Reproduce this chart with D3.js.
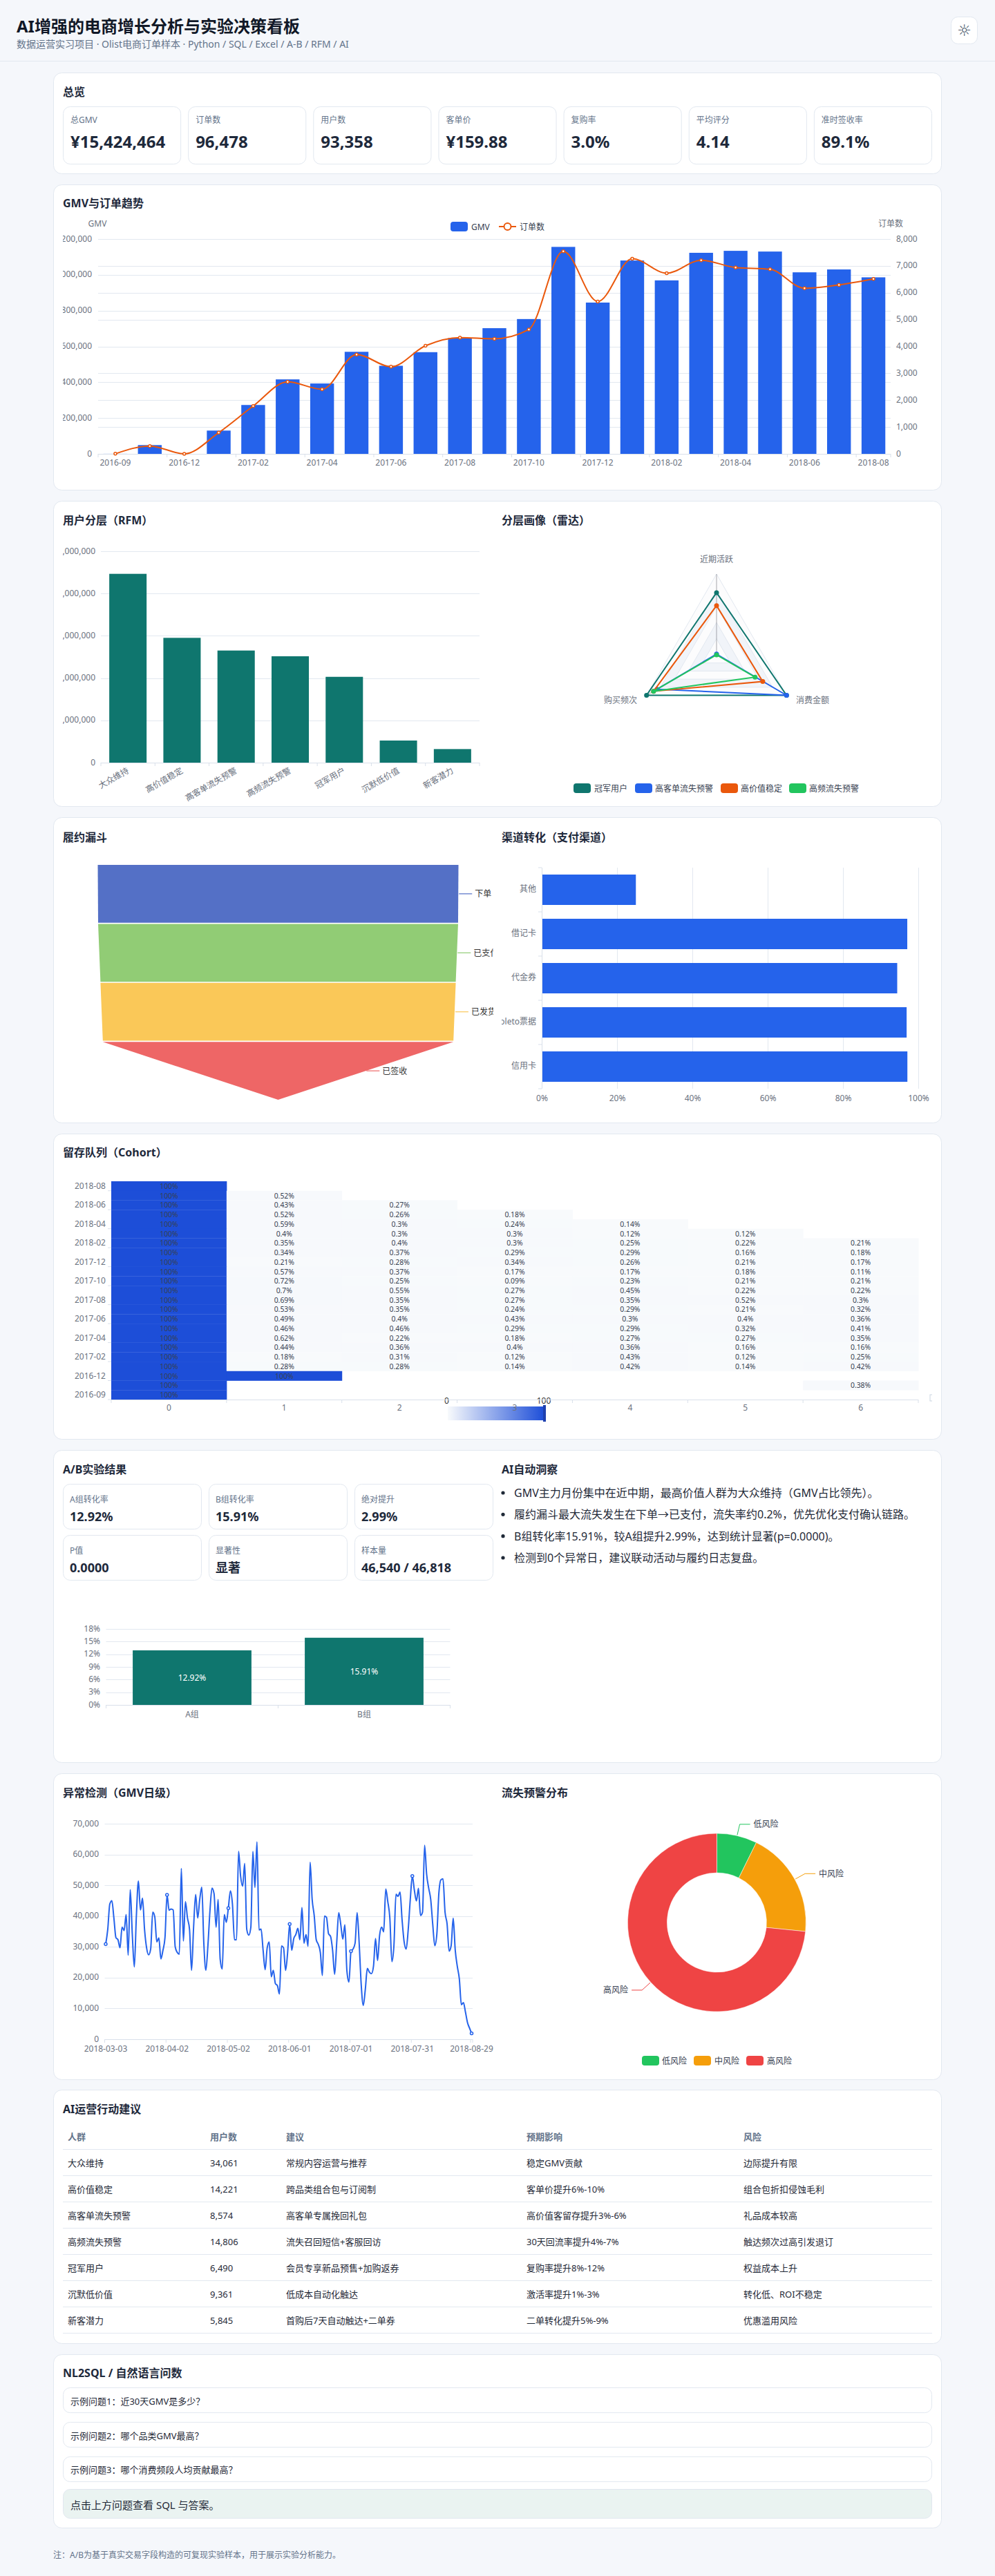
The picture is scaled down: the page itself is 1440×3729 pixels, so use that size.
<!DOCTYPE html>
<html lang="zh"><head><meta charset="utf-8"><title>AI增强的电商增长分析与实验决策看板</title>
<script src="https://cdn.jsdelivr.net/npm/d3@7/dist/d3.min.js"></script>
<style>
html,body{margin:0;padding:0;background:#f5f7fb}
svg{display:block}
text{font-family:"Noto Sans","Noto Sans CJK SC",sans-serif;dominant-baseline:central}
</style></head><body><script>
const kpiLabels=["总GMV","订单数","用户数","客单价","复购率","平均评分","准时签收率"];
const kpiValues=["¥15,424,464","96,478","93,358","¥159.88","3.0%","4.14","89.1%"];
const months=["2016-09","2016-10","2016-12","2017-01","2017-02","2017-03","2017-04","2017-05","2017-06","2017-07","2017-08","2017-09","2017-10","2017-11","2017-12","2018-01","2018-02","2018-03","2018-04","2018-05","2018-06","2018-07","2018-08"];
const gmvValues=[300,49000,20,130000,273000,416000,393000,570000,492000,568000,647000,702000,753000,1156000,845000,1080000,969000,1123000,1134000,1130000,1014000,1030000,986000];
const orderValues=[4,292,1,790,1780,2682,2404,3700,3245,4026,4331,4285,4631,7544,5673,7269,6728,7211,6939,6873,6167,6292,6512];
const rfmSegments=["大众维持","高价值稳定","高客单流失预警","高频流失预警","冠军用户","沉默低价值","新客潜力"];
const rfmGmv=[4466000,2952000,2652000,2516000,2030000,523000,321000];
const radarAxes=["近期活跃","购买频次","消费金额"];
const radarNames=["冠军用户","高客单流失预警","高价值稳定","高频流失预警"];
const radarChampion=[0.77,1,1];
const radarHighTicket=[0.01,0.85,1];
const radarHighValue=[0.61,0.9,0.66];
const radarHighFreq=[0,0.9,0.55];
const radarColors=["#0f766e","#2563eb","#ea580c","#22c55e"];
const funnelStages=["下单","已支付","已发货","已签收"];
const funnelValues=[100,99.8,98.5,97.2];
const funnelColors=["#5470c6","#91cc75","#fac858","#ee6666"];
const channelNames=["其他","借记卡","代金券","boleto票据","信用卡"];
const channelRates=[25,97.07,94.4,96.9,97.1];
const cohortMonths=["2018-08","2018-07","2018-06","2018-05","2018-04","2018-03","2018-02","2018-01","2017-12","2017-11","2017-10","2017-09","2017-08","2017-07","2017-06","2017-05","2017-04","2017-03","2017-02","2017-01","2016-12","2016-10","2016-09"];
const cohortValues=[
[100],[100,.52],[100,.43,.27],[100,.52,.26,.18],[100,.59,.3,.24,.14],[100,.4,.3,.3,.12,.12],
[100,.35,.4,.3,.25,.22,.21],[100,.34,.37,.29,.29,.16,.18],[100,.21,.28,.34,.26,.21,.17],
[100,.57,.37,.17,.17,.18,.11],[100,.72,.25,.09,.23,.21,.21],[100,.7,.55,.27,.45,.22,.22],
[100,.69,.35,.27,.35,.52,.3],[100,.53,.35,.24,.29,.21,.32],[100,.49,.4,.43,.3,.4,.36],
[100,.46,.46,.29,.29,.32,.41],[100,.62,.22,.18,.27,.27,.35],[100,.44,.36,.4,.36,.16,.16],
[100,.18,.31,.12,.43,.12,.25],[100,.28,.28,.14,.42,.14,.42],[100,100],
[100,null,null,null,null,null,.38],[100]];
const abLabels=["A组转化率","B组转化率","绝对提升","P值","显著性","样本量"];
const abValues=["12.92%","15.91%","2.99%","0.0000","显著","46,540 / 46,818"];
const abGroups=["A组","B组"];
const abRates=[12.92,15.91];
const insights=["GMV主力月份集中在近中期，最高价值人群为大众维持（GMV占比领先）。","履约漏斗最大流失发生在下单→已支付，流失率约0.2%，优先优化支付确认链路。","B组转化率15.91%，较A组提升2.99%，达到统计显著(p=0.0000)。","检测到0个异常日，建议联动活动与履约日志复盘。"];
const dailyGmvK=[30.9,35.7,43.9,45,39.4,33,32.3,29.7,36.4,35.3,40.5,27.3,48.6,34.2,23.5,40,51.4,42,45.8,35.7,29.7,27.4,29.3,41.3,39.8,31.6,32.9,26.1,28.9,33,46.9,41.9,42.3,42,30,28.2,27.6,55.5,31.9,44.7,39.4,35.7,22.4,36.4,47,39.4,45.4,49.4,31.2,22.4,30.4,41.7,49.1,47.3,36.4,45.4,26,22.8,40.5,38,42.6,48.2,43.9,32.3,32.3,61,52.9,49.7,57.1,35.7,33.8,36.4,61,49.3,64.1,35.5,35.8,28.9,22.6,29.7,31.6,20.3,22.4,18.1,17.4,14.7,30.3,29.7,22.4,28.2,37.4,28.9,32.7,34,36,32.3,42.8,31.2,34,30.2,57.5,45.4,40.2,32.3,30.8,28.2,20.7,40,39.6,34.3,33.4,28.9,21.1,31.2,41.1,37.2,32.5,37.2,22.2,18.6,28.6,29.3,31.2,41.1,31.2,17.7,11,16.2,23,21.8,21.3,23.7,32.7,25.6,33.8,36.4,34.9,48.8,44.7,39.4,25.2,30.4,47.1,46.4,47.8,38.7,31.6,29.3,35.7,45.4,53,48.4,44.9,49,40.2,41.3,63,53.6,49.1,45.4,37.2,30.4,34.2,47.6,51.8,52.1,41.3,37.5,28.6,30.4,39.3,28.9,23.7,19.6,11.2,11.9,8.8,5.4,3.6,1.9];
const dailyTickDates=["2018-03-03","2018-04-02","2018-05-02","2018-06-01","2018-07-01","2018-07-31","2018-08-29"];
const dailyTickIndex=[0,30,60,90,120,150,179];
const riskNames=["低风险","中风险","高风险"];
const riskUsers=[6815,18020,68523];
const riskColors=["#22c55e","#f59e0b","#ef4444"];
const tableHeads=["人群","用户数","建议","预期影响","风险"];
const tableSegments=["大众维持","高价值稳定","高客单流失预警","高频流失预警","冠军用户","沉默低价值","新客潜力"];
const tableUsers=["34,061","14,221","8,574","14,806","6,490","9,361","5,845"];
const tableActions=["常规内容运营与推荐","跨品类组合包与订阅制","高客单专属挽回礼包","流失召回短信+客服回访","会员专享新品预售+加购返券","低成本自动化触达","首购后7天自动触达+二单券"];
const tableImpacts=["稳定GMV贡献","客单价提升6%-10%","高价值客留存提升3%-6%","30天回流率提升4%-7%","复购率提升8%-12%","激活率提升1%-3%","二单转化提升5%-9%"];
const tableRisks=["边际提升有限","组合包折扣侵蚀毛利","礼品成本较高","触达频次过高引发退订","权益成本上升","转化低、ROI不稳定","优惠滥用风险"];
const questions=["示例问题1：近30天GMV是多少？","示例问题2：哪个品类GMV最高？","示例问题3：哪个消费频段人均贡献最高？"];

const INK="#1f2937",MUTE="#64748b",AXIS="#6b7280",GRID="#e2e8f0",AXLINE="#d9e0ea";
const svg=d3.select("body").append("svg").attr("width",1440).attr("height",3729).attr("viewBox","0 0 1440 3729");
svg.append("rect").attr("width",1440).attr("height",3729).attr("fill","#f5f7fb");
const defs=svg.append("defs");
function clip(id,x,y,w,h){defs.append("clipPath").attr("id",id).append("rect").attr("x",x).attr("y",y).attr("width",w).attr("height",h);}
clip("cFull",91,260,1258,3000);clip("cLeft",91,260,623,3000);clip("cRight",726,260,623,3000);
function T(g,x,y,s,o={}){return g.append("text").attr("x",x).attr("y",y).text(s).attr("font-size",o.size||12).attr("fill",o.fill||AXIS).attr("font-weight",o.weight||400).attr("text-anchor",o.anchor||"start");}
function box(x,y,w,h,r=12,fill="#fff",stroke=GRID){return svg.append("rect").attr("x",x+.5).attr("y",y+.5).attr("width",w-1).attr("height",h-1).attr("rx",r).attr("fill",fill).attr("stroke",stroke);}
function title(x,y,s){T(svg,x,y,s,{size:16,weight:700,fill:"#1e293b"});}
function styleAxis(sel){sel.attr("font-size",12).attr("font-family",null);sel.select(".domain").remove();sel.selectAll("text").attr("fill",AXIS);sel.selectAll("line").attr("stroke",GRID);return sel;}
function gridY(g,y,x0,x1,vals){g.selectAll(null).data(vals).join("line").attr("x1",x0).attr("x2",x1).attr("y1",d=>Math.round(y(d))+.5).attr("y2",d=>Math.round(y(d))+.5).attr("stroke",GRID);}
function leftAxis(g,y,x,vals,fmt){g.append("g").attr("transform",`translate(${x},0)`).call(d3.axisLeft(y).tickValues(vals).tickFormat(fmt).tickSize(0).tickPadding(0)).call(styleAxis).selectAll("text").attr("dy",-1.5);}
function bandBottom(g,x,y0,shown,lblDy=13,tickLen=5){
  const ax=g.append("g").attr("transform",`translate(0,${y0})`).call(d3.axisBottom(x).tickValues(shown).tickSize(0).tickPadding(0)).call(styleAxis);
  ax.selectAll("text").attr("y",lblDy).attr("dy",0);
  const step=x.step(),pi=x.paddingInner(),r=x.range();
  const edges=shown.map(c=>x(c)-step*pi/2).concat([r[1]]);
  g.append("line").attr("x1",r[0]).attr("x2",r[1]).attr("y1",y0+.5).attr("y2",y0+.5).attr("stroke",AXLINE);
  g.selectAll(null).data(edges).join("line").attr("x1",d=>d).attr("x2",d=>d).attr("y1",y0).attr("y2",y0+tickLen).attr("stroke",AXLINE);
}
function band(dom,r,p){return d3.scaleBand().domain(dom).range(r).paddingInner(p).paddingOuter(p/2);}
function legend(g,items,y){items.forEach(it=>{g.append("rect").attr("x",it.x).attr("y",y-7).attr("width",25).attr("height",14).attr("rx",4).attr("fill",it.color);T(g,it.tx,y,it.name,{fill:"#374151"});});}

/* header */
T(svg,24,37,"AI增强的电商增长分析与实验决策看板",{size:24,weight:700,fill:"#111827"});
T(svg,24,63,"数据运营实习项目 · Olist电商订单样本 · Python / SQL / Excel / A-B / RFM / AI",{size:14,fill:MUTE});
svg.append("line").attr("x1",0).attr("x2",1440).attr("y1",88.5).attr("y2",88.5).attr("stroke",GRID);
box(1376,24,39,40,10);
T(svg,1395.5,44,"☼",{size:23,anchor:"middle",fill:"#475569"}).style("font-family","DejaVu Sans");
/* cards */
[[105,252],[267,710],[725,1168],[1183,1626],[1641,2084],[2099,2552],[2567,3011],[3025,3393],[3408,3660]].forEach(c=>box(77,c[0],1286,c[1]-c[0]));
/* overview */
title(91,133,"总览");
const kx=d3.scaleBand().domain(kpiLabels).range([91,1349]).paddingInner(10/181).paddingOuter(0);
kpiLabels.forEach((l,i)=>{const x=kx(l);box(x,154,kx.bandwidth(),84,10);T(svg,x+11,173,l,{size:12,fill:MUTE});T(svg,x+11,204,kpiValues[i],{size:24,weight:700,fill:"#1e293b"});});

/* GMV chart */
title(91,294,"GMV与订单趋势");
{const g=svg.append("g").attr("clip-path","url(#cFull)");
 const x=band(months,[142,1289],.31),yL=d3.scaleLinear().domain([0,1200000]).range([657,346]),yR=d3.scaleLinear().domain([0,8000]).range([657,346]);
 const lt=d3.range(0,1200001,200000),rt=d3.range(0,8001,1000);
 gridY(g,yL,142,1289,lt);gridY(g,yR,142,1289,rt);
 g.selectAll(null).data(months).join("rect").attr("x",d=>x(d)).attr("width",x.bandwidth()).attr("y",(d,i)=>yL(gmvValues[i])).attr("height",(d,i)=>657-yL(gmvValues[i])).attr("fill","#2563eb");
 bandBottom(g,x,657,months.filter((d,i)=>i%2===0),12);
 leftAxis(g,yL,133,lt,d3.format(","));
 g.append("g").attr("transform","translate(1289,0)").call(d3.axisRight(yR).tickValues(rt).tickFormat(d3.format(",")).tickSize(0).tickPadding(8)).call(styleAxis).selectAll("text").attr("dy",-1.5);
 const cx=d=>x(d)+x.bandwidth()/2;
 const line=d3.line().x((d,i)=>cx(months[i])).y(d=>yR(d)).curve(d3.curveMonotoneX);
 g.append("path").attr("d",line(orderValues)).attr("fill","none").attr("stroke","#ea580c").attr("stroke-width",2);
 g.selectAll(null).data(orderValues).join("circle").attr("cx",(d,i)=>cx(months[i])).attr("cy",d=>yR(d)).attr("r",2).attr("fill","#fff").attr("stroke","#ea580c").attr("stroke-width",1.5);
 T(g,141,323,"GMV",{anchor:"middle"});T(g,1289,323,"订单数",{anchor:"middle"});
 g.append("rect").attr("x",652).attr("y",321).attr("width",25).attr("height",14).attr("rx",4).attr("fill","#2563eb");
 T(g,682,328,"GMV",{fill:"#374151"});
 g.append("line").attr("x1",722).attr("x2",747).attr("y1",328).attr("y2",328).attr("stroke","#ea580c").attr("stroke-width",2);
 g.append("circle").attr("cx",734.5).attr("cy",328).attr("r",5).attr("fill","#fff").attr("stroke","#ea580c").attr("stroke-width",2);
 T(g,752,328,"订单数",{fill:"#374151"});
}
/* RFM */
title(91,753,"用户分层（RFM）");
{const g=svg.append("g").attr("clip-path","url(#cLeft)");
 const x=band(rfmSegments,[146,694],.31),y=d3.scaleLinear().domain([0,5000000]).range([1104,798]);
 const t=d3.range(0,5000001,1000000);gridY(g,y,146,694,t);
 g.selectAll(null).data(rfmGmv).join("rect").attr("x",(d,i)=>x(rfmSegments[i])).attr("width",x.bandwidth()).attr("y",d=>y(d)).attr("height",d=>1104-y(d)).attr("fill","#0f766e");
 bandBottom(g,x,1104,rfmSegments,12);
 g.selectAll(".tick text").remove();
 rfmSegments.forEach(s=>{const cx=x(s)+x.bandwidth()/2;T(g,cx,1114,s,{anchor:"end"}).attr("transform",`rotate(-30 ${cx} 1114)`);});
 leftAxis(g,y,138,t,d3.format(","));
}
/* radar */
title(726,753,"分层画像（雷达）");
{const g=svg.append("g").attr("clip-path","url(#cRight)"),cx=1037,cy=948;
 const r=d3.scaleLinear().domain([0,1]).range([0,117]);
 const ang=i=>-Math.PI/2-i*2*Math.PI/3;
 const pt=(v,i)=>[cx+r(v)*Math.cos(ang(i)),cy+r(v)*Math.sin(ang(i))];
 const poly=d3.line().curve(d3.curveLinearClosed);
 [1,.8,.6,.4,.2].forEach((v,k)=>{g.append("path").attr("d",poly([0,1,2].map(i=>pt(v,i)))).attr("fill",k%2?"#f1f4f9":"#fcfcfd").attr("stroke",GRID);});
 [0,1,2].forEach(i=>{const p=pt(1,i);g.append("line").attr("x1",cx).attr("y1",cy).attr("x2",p[0]).attr("y2",p[1]).attr("stroke","#6e7079").attr("stroke-opacity",.6);});
 [radarChampion,radarHighTicket,radarHighValue,radarHighFreq].forEach((vals,k)=>{
  const pts=vals.map((v,i)=>pt(v,i));
  g.append("path").attr("d",poly(pts)).attr("fill","none").attr("stroke",radarColors[k]).attr("stroke-width",2);
  g.selectAll(null).data(pts).join("circle").attr("cx",d=>d[0]).attr("cy",d=>d[1]).attr("r",3.5).attr("fill",radarColors[k]);
 });
 T(g,1037,809,radarAxes[0],{anchor:"middle"});T(g,898,1013,radarAxes[1],{anchor:"middle"});T(g,1176,1013,radarAxes[2],{anchor:"middle"});
 legend(g,[{x:830,tx:860,name:radarNames[0],color:radarColors[0]},{x:919,tx:948,name:radarNames[1],color:radarColors[1]},{x:1043,tx:1072,name:radarNames[2],color:radarColors[2]},{x:1142,tx:1171,name:radarNames[3],color:radarColors[3]}],1141);
}
/* funnel */
title(91,1212,"履约漏斗");
{const g=svg.append("g").attr("clip-path","url(#cLeft)");
 const w=d3.scaleLinear().domain([0,100]).range([0,522]),cx=402.5;
 const y=d3.scaleBand().domain(funnelStages).range([1252,1592]).paddingInner(.02).paddingOuter(0);
 const poly=d3.line().curve(d3.curveLinearClosed);
 funnelStages.forEach((s,i)=>{const t=w(funnelValues[i])/2,b=i<3?w(funnelValues[i+1])/2:0,y0=y(s),y1=y0+y.bandwidth(),col=funnelColors[i];
  g.append("path").attr("d",poly([[cx-t,y0],[cx+t,y0],[cx+b,y1],[cx-b,y1]])).attr("fill",col);
  const my=(y0+y1)/2,rx=cx+(t+b)/2;
  g.append("line").attr("x1",rx+1).attr("x2",rx+20).attr("y1",my).attr("y2",my).attr("stroke",col).attr("stroke-width",1.2);
  T(g,rx+24,my,s,{fill:"#333"});
 });
}
/* channels */
title(726,1212,"渠道转化（支付渠道）");
{const g=svg.append("g").attr("clip-path","url(#cRight)");
 const x=d3.scaleLinear().domain([0,100]).range([784,1329]),y=band(channelNames,[1256,1576],.3125);
 const t=d3.range(0,101,20);
 g.selectAll(null).data(t).join("line").attr("x1",d=>Math.round(x(d))+.5).attr("x2",d=>Math.round(x(d))+.5).attr("y1",1256).attr("y2",1576).attr("stroke",GRID);
 g.selectAll(null).data(channelRates).join("rect").attr("x",784).attr("width",d=>x(d)-784).attr("y",(d,i)=>y(channelNames[i])).attr("height",y.bandwidth()).attr("fill","#2563eb");
 g.append("g").attr("transform","translate(0,1576)").call(d3.axisBottom(x).tickValues(t).tickFormat(d=>d+"%").tickSize(0).tickPadding(5)).call(styleAxis);
 g.append("g").attr("transform","translate(784,0)").call(d3.axisLeft(y).tickSize(0).tickPadding(8)).call(styleAxis).selectAll("text").attr("dy",-1.5);
 const edges=channelNames.map(c=>y(c)-y.step()*y.paddingInner()/2).concat([1576]);
 g.append("line").attr("x1",784.5).attr("x2",784.5).attr("y1",1256).attr("y2",1576).attr("stroke",AXLINE);
 g.selectAll(null).data(edges).join("line").attr("x1",779).attr("x2",784).attr("y1",d=>d).attr("y2",d=>d).attr("stroke",AXLINE);
}
/* cohort */
title(91,1668,"留存队列（Cohort）");
{const g=svg.append("g").attr("clip-path","url(#cFull)");
 const cols=d3.range(7);
 const x=d3.scaleBand().domain(cols).range([161,1329]),y=d3.scaleBand().domain(cohortMonths).range([1710,2026]);
 const color=d3.scaleLinear().domain([0,100]).range(["#f8fafc","#1d4ed8"]);
 const cells=[];cohortValues.forEach((row,r)=>row.forEach((v,c)=>{if(v!==null)cells.push({m:cohortMonths[r],c,v});}));
 g.selectAll(null).data(cells).join("rect").attr("x",d=>x(d.c)).attr("y",d=>y(d.m)).attr("width",x.bandwidth()+.5).attr("height",y.bandwidth()+.3).attr("fill",d=>color(d.v));
 g.selectAll(null).data(cells).join("text").attr("x",d=>x(d.c)+x.bandwidth()/2).attr("y",d=>y(d.m)+y.bandwidth()/2).attr("text-anchor","middle").attr("font-size",10.4).attr("fill","#374151").text(d=>d.v+"%");
 const grad=defs.append("linearGradient").attr("id","vm");
 grad.append("stop").attr("offset",0).attr("stop-color","#f8fafc");grad.append("stop").attr("offset",1).attr("stop-color","#1d4ed8");
 g.append("rect").attr("x",648).attr("y",2036).attr("width",140).attr("height",20).attr("fill","url(#vm)");
 g.append("rect").attr("x",786).attr("y",2034).attr("width",4).attr("height",24).attr("fill","#1e40af");
 T(g,646.5,2027,"0",{anchor:"middle",fill:"#333"});T(g,787,2027,"100",{anchor:"middle",fill:"#333"});
 g.append("g").attr("transform","translate(0,2026)").call(d3.axisBottom(x).tickSize(0).tickPadding(3)).call(styleAxis);
 const edgesX=cols.map(c=>x(c)).concat([1329]);
 g.append("line").attr("x1",161).attr("x2",1329).attr("y1",2026.5).attr("y2",2026.5).attr("stroke",AXLINE);
 g.selectAll(null).data(edgesX).join("line").attr("x1",d=>d).attr("x2",d=>d).attr("y1",2026).attr("y2",2031).attr("stroke",AXLINE);
 const shownY=cohortMonths.filter((d,i)=>(22-i)%2===0);
 g.append("g").attr("transform","translate(161,0)").call(d3.axisLeft(y).tickValues(shownY).tickSize(0).tickPadding(8)).call(styleAxis).selectAll("text").attr("dy",-.5);
 g.selectAll(null).data(shownY.map(m=>y(m)+y.bandwidth())).join("line").attr("x1",156).attr("x2",161).attr("y1",d=>d).attr("y2",d=>d).attr("stroke",AXLINE);
 g.append("rect").attr("x",1346).attr("y",2019).attr("width",5).attr("height",9).attr("fill","none").attr("stroke","#cbd5e1");
}
/* A/B */
title(91,2127,"A/B实验结果");title(726,2127,"AI自动洞察");
{const cx=d3.scaleBand().domain([0,1,2]).range([91,714]).paddingInner(10/211).paddingOuter(0);
 abLabels.forEach((l,i)=>{const x=cx(i%3),y=i<3?2148:2222;box(x,y,cx.bandwidth(),66,10);T(svg,x+10,y+22,l,{size:12,fill:MUTE});T(svg,x+10,y+47,abValues[i],{size:18,weight:700,fill:"#1e293b"});});
 const g=svg.append("g").attr("clip-path","url(#cLeft)");
 const x=band(abGroups,[153.5,651.5],.31),y=d3.scaleLinear().domain([0,18]).range([2468,2358]);
 const t=d3.range(0,19,3);gridY(g,y,153.5,651.5,t);
 g.selectAll(null).data(abRates).join("rect").attr("x",(d,i)=>x(abGroups[i])).attr("width",x.bandwidth()).attr("y",d=>y(d)).attr("height",d=>2468-y(d)).attr("fill","#0f766e");
 g.selectAll(null).data(abRates).join("text").attr("x",(d,i)=>x(abGroups[i])+x.bandwidth()/2).attr("y",d=>(y(d)+2468)/2).attr("text-anchor","middle").attr("font-size",12).attr("fill","#fff").text(d=>d.toFixed(2)+"%");
 bandBottom(g,x,2468,abGroups,13);
 leftAxis(g,y,145,t,d=>d+"%");
 const iy=d3.scalePoint().domain(insights).range([2161,2255]);
 insights.forEach(s=>{svg.append("circle").attr("cx",728).attr("cy",iy(s)).attr("r",2.6).attr("fill",INK);T(svg,744,iy(s),s,{size:16,fill:INK});});
}
/* anomaly */
title(91,2595,"异常检测（GMV日级）");
{const g=svg.append("g").attr("clip-path","url(#cLeft)");
 const idx=d3.range(dailyGmvK.length);
 const x=d3.scaleBand().domain(idx).range([151.5,684]),y=d3.scaleLinear().domain([0,70]).range([2952,2640]);
 const t=d3.range(0,71,10);gridY(g,y,151.5,684,t);
 leftAxis(g,y,143,t,d=>d3.format(",")(d*1000));
 const cx=i=>x(i)+x.bandwidth()/2;
 g.append("path").attr("d",d3.line().x((d,i)=>cx(i)).y(d=>y(d)).curve(d3.curveMonotoneX)(dailyGmvK)).attr("fill","none").attr("stroke","#2563eb").attr("stroke-width",2);
 g.append("line").attr("x1",151.5).attr("x2",684).attr("y1",2952.5).attr("y2",2952.5).attr("stroke",AXLINE);
 dailyTickIndex.forEach((v,k)=>{T(g,cx(v),2965,dailyTickDates[k],{anchor:"middle"});
  g.append("line").attr("x1",x(v)).attr("x2",x(v)).attr("y1",2952).attr("y2",2957).attr("stroke",AXLINE);
  g.append("circle").attr("cx",cx(v)).attr("cy",y(dailyGmvK[v])).attr("r",2).attr("fill","#fff").attr("stroke","#2563eb").attr("stroke-width",1.5);});
 g.append("line").attr("x1",684).attr("x2",684).attr("y1",2952).attr("y2",2957).attr("stroke",AXLINE);
}
/* donut */
title(726,2595,"流失预警分布");
{const g=svg.append("g").attr("clip-path","url(#cRight)").append("g");
 const pie=d3.pie().sort(null)(riskUsers),arc=d3.arc().innerRadius(72).outerRadius(129);
 const cx=1037.4,cy=2783;
 const d=g.append("g").attr("transform",`translate(${cx},${cy})`);
 d.selectAll(null).data(pie).join("path").attr("d",arc).attr("fill",(p,i)=>riskColors[i]).attr("stroke","#fff").attr("stroke-width",.5);
 const R0=130,R1=146;
 pie.forEach((p,i)=>{const a=(p.startAngle+p.endAngle)/2-Math.PI/2,dir=Math.cos(a)>=0?1:-1;
  const p0=[cx+R0*Math.cos(a),cy+R0*Math.sin(a)],p1=[cx+R1*Math.cos(a),cy+R1*Math.sin(a)],p2=[p1[0]+dir*15,p1[1]];
  g.append("path").attr("d",d3.line()([p0,p1,p2])).attr("fill","none").attr("stroke",riskColors[i]);
  T(g,p2[0]+dir*5,p2[1],riskNames[i],{fill:"#374151",anchor:dir>0?"start":"end"});});
 legend(g,[{x:929,tx:958,name:riskNames[0],color:riskColors[0]},{x:1004,tx:1034,name:riskNames[1],color:riskColors[1]},{x:1080,tx:1110,name:riskNames[2],color:riskColors[2]}],2983);
}
/* table */
title(91,3053,"AI运营行动建议");
{const colX=d3.scaleOrdinal().domain(tableHeads).range([98,304,414,762,1076]);
 const cols=[tableSegments,tableUsers,tableActions,tableImpacts,tableRisks];
 const y=d3.scaleBand().domain(tableSegments).range([3111,3377]);
 tableHeads.forEach((h,c)=>{T(svg,colX(h),3093,h,{size:13,weight:600,fill:MUTE});cols[c].forEach((v,r)=>T(svg,colX(h),y(tableSegments[r])+y.bandwidth()/2+1,v,{size:13,fill:INK}));});
 [3111].concat(tableSegments.map(s=>y(s)+y.bandwidth())).forEach(v=>svg.append("line").attr("x1",91).attr("x2",1349).attr("y1",v+.5).attr("y2",v+.5).attr("stroke",GRID));
}
/* nl2sql */
title(91,3435,"NL2SQL / 自然语言问数");
{const y=d3.scaleBand().domain(questions).range([3456,3593]).paddingInner(10/39).paddingOuter(0);
 questions.forEach(q=>{box(91,y(q),1258,y.bandwidth(),10);T(svg,102,y(q)+y.bandwidth()/2+1,q,{size:13,fill:INK});});
 box(91,3603,1258,43,10,"#eaf3f1");
 T(svg,102,3626,"点击上方问题查看 SQL 与答案。",{size:15,fill:INK});
 T(svg,77,3698,"注：A/B为基于真实交易字段构造的可复现实验样本，用于展示实验分析能力。",{size:12,fill:MUTE});
}
</script></body></html>
